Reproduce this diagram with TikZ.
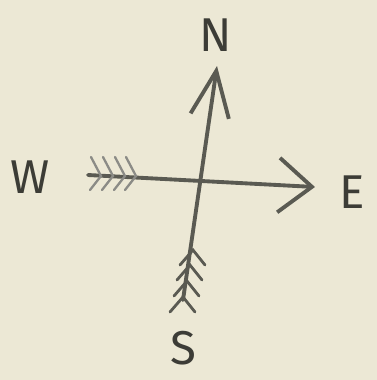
\documentclass[tikz,border=0pt]{standalone}
\usepackage{fontspec}
\setsansfont{Fira Sans}
\usetikzlibrary{arrows.meta}
\definecolor{paperBeige}{HTML}{ECE8D5}
\definecolor{inkGrey}{HTML}{5A5A52}
\definecolor{inkDark}{HTML}{3C3C36}

\begin{document}
\begin{tikzpicture}[
  x=0.02cm,y=-0.02cm,
  letter/.style={font=\sffamily\fontsize{27}{29}\selectfont,text=inkDark,inner sep=0pt},
  shaft/.style={line width=2.2pt,color=inkGrey,line cap=round,line join=round},
  feather/.style={line width=1.6pt,color=inkGrey,line cap=round},
  faint/.style={line width=1.3pt,color=inkGrey!70,line cap=round}
]
\fill[paperBeige] (0,0) rectangle (377,380);
% ends of the two shafts
\coordinate (ntip) at (217,66);
\coordinate (stail) at (183,300);
\coordinate (wtail) at (88,175);
\coordinate (etip) at (315,187);
% the four letters
\node[letter] (n) at (216,35) {N};
\node[letter] (e) at (352,192) {E};
\node[letter] (s) at (183,348) {S};
\node[letter] (w) at (30,177) {W};
% shafts with open heads
\draw[shaft,-{Straight Barb[length=26pt,width=22pt]}] (stail) -- (ntip);
\draw[shaft,-{Straight Barb[length=19pt,width=31pt]}] (wtail) -- (etip);
% feathers on the south tail
\foreach \x/\y in {193/250,190/265,187/281,183/297}
  \draw[feather] (\x-13,\y+15) -- (\x,\y) -- (\x+12,\y+15);
% feathers on the west tail
\foreach \x in {101,113,125,136}
  \draw[faint] (\x-10,157) -- (\x,176) -- (\x-11,190);
\end{tikzpicture}
\end{document}
